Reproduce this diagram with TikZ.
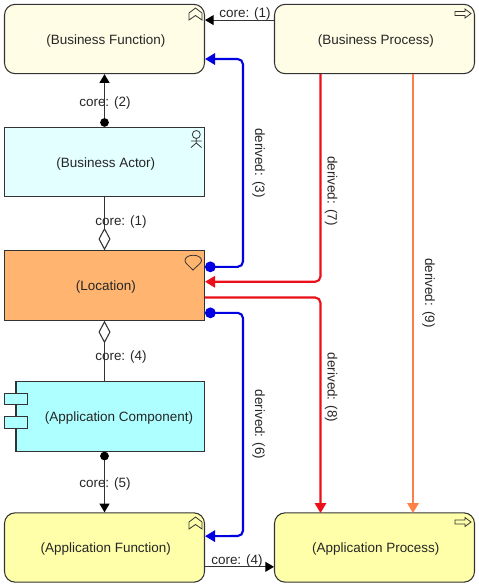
\documentclass[tikz,border=0pt]{standalone}
\usepackage{fontspec}
\setmainfont{Liberation Sans}
\usepackage{tikz}
\usetikzlibrary{arrows.meta,calc}
\definecolor{bizfunc}{RGB}{255,253,230}
\definecolor{bizactor}{RGB}{228,255,255}
\definecolor{locorange}{RGB}{255,181,112}
\definecolor{appcomp}{RGB}{174,255,255}
\definecolor{appfunc}{RGB}{255,255,170}
\definecolor{linkgrey}{RGB}{51,51,51}
\definecolor{linkblue}{RGB}{0,0,225}
\definecolor{linkred}{RGB}{235,15,25}
\definecolor{linkorange}{RGB}{255,128,70}
\tikzset{
    element/.style={rectangle, draw=linkgrey, line width=0.8pt, minimum width=150pt, minimum height=52pt, inner sep=0pt, text height=9.6pt, text depth=2pt, font=\fontsize{10.1}{12}\selectfont, text=black!85, execute at begin node=\hspace*{2pt}},
    roundelement/.style={element, rounded corners=8pt},
    tabbox/.style={rectangle, draw=linkgrey, line width=0.8pt, fill=appcomp, minimum width=17.5pt, minimum height=8.5pt, inner sep=0pt},
    core/.style={line width=0.8pt, linkgrey, -{Triangle[length=6.5pt,width=7.5pt,color=black]}},
    coredot/.style={core, {Circle[length=6.5pt,color=black]}-{Triangle[length=6.5pt,width=7.5pt,color=black]}},
    coredia/.style={line width=0.8pt, linkgrey, -{Diamond[open,fill=white,length=17pt,width=9pt]}},
    derived/.style={line width=1.6pt, rounded corners=4pt, -{Triangle[length=7.5pt,width=8.5pt]}},
    deriveddot/.style={derived, {Circle[length=8pt]}-{Triangle[length=7.5pt,width=8.5pt]}},
    linklabel/.style={font=\fontsize{10.1}{12}\selectfont, text=black!85, inner sep=0pt},
    sidelabel/.style={linklabel, rotate=-90},
    icon/.style={draw=linkgrey, line width=0.6pt},
    functionicon/.pic={\draw[icon] (-6.5,5) -- (0,0) -- (6.5,5) -- (6.5,12) -- (0,7.5) -- (-6.5,12) -- cycle;},
    processicon/.pic={\draw[icon] (-8,-2) -- (2,-2) -- (2,-4.5) -- (8,0) -- (2,4.5) -- (2,2) -- (-8,2) -- cycle;},
}

\begin{document}
\begin{tikzpicture}[x=0.75pt,y=-0.75pt]
    \useasboundingbox (0,0) rectangle (479,587);

    % business layer
    \node[roundelement, fill=bizfunc] (bfunc) at (104.5,39) {(Business Function)};
    \node[roundelement, fill=bizfunc] (bproc) at (374.5,39) {(Business Process)};
    \node[element, fill=bizactor] (bactor) at (104.5,162) {(Business Actor)};

    % location
    \node[element, fill=locorange] (loc) at (104.5,285.5) {(Location)};

    % application layer
    \node[element, fill=appcomp, minimum width=141.5pt] (acomp) at (110.3,416.5) {\hspace*{11pt}(Application Component)};
    \node[tabbox] (tabup) at (16.2,399) {};
    \node[tabbox] (tabdown) at (16.2,422.5) {};
    \node[roundelement, fill=appfunc] (afunc) at (104.5,547.5) {(Application Function)};
    \node[roundelement, fill=appfunc] (aproc) at (374.5,547.5) {(Application Process)};

    % icons
    \pic at (195.5,8) {functionicon};
    \pic at (195.5,517) {functionicon};
    \pic at (463,13.5) {processicon};
    \pic at (463,522) {processicon};
    \draw[icon] (196.3,134.5) circle (4);
    \draw[icon] (196.3,138.5) -- (196.3,143) (191,141) -- (201.5,141) (191,147.5) -- (196.3,143) -- (201.5,147.5);
    \draw[icon] (193,270) .. controls (188,265) and (185,263) .. (185,260.5) .. controls (185,253.5) and (201.5,253.5) .. (201.5,260.5) .. controls (201.5,263) and (198,265) .. (193,270) -- cycle;

    % core links
    \draw[core] ([yshift=14.2pt]bproc.west) -- ([yshift=14.2pt]bfunc.east);
    \draw[coredot] (bactor.north) -- (bfunc.south);
    \draw[coredia] (bactor.south) -- (loc.north);
    \draw[coredia] (acomp.north -| loc.south) -- (loc.south);
    \draw[coredot] (afunc.north |- acomp.south) -- (afunc.north);
    \draw[core] ([yshift=-14.5pt]afunc.east) -- ([yshift=-14.5pt]aproc.west);

    % derived links
    \draw[deriveddot, linkblue] ([yshift=14pt]loc.east) -| (243,59) -- ([yshift=-15pt]bfunc.east);
    \draw[derived, linkred] (320.5,74) |- ([yshift=2.8pt]loc.east);
    \draw[derived, linkred] ([yshift=-9pt]loc.east) -| (320.5,513);
    \draw[deriveddot, linkblue] ([yshift=-20.5pt]loc.east) -| (243,536) -- ([yshift=8.5pt]afunc.east);
    \draw[derived, linkorange] (413,74) -- (413,513);

    % labels
    \node[linklabel] (core1top) at (245,14) {core: (1)};
    \node[linklabel] (core2) at (105,103) {core: (2)};
    \node[linklabel] (core1) at (121,222) {core: (1)};
    \node[linklabel] (core4) at (121,357) {core: (4)};
    \node[linklabel] (core5) at (105,484) {core: (5)};
    \node[linklabel] (core4low) at (237,561) {core: (4)};
    \node[sidelabel] (der3) at (258.5,163) {derived: (3)};
    \node[sidelabel] (der6) at (258.5,424.5) {derived: (6)};
    \node[sidelabel] (der7) at (331,191) {derived: (7)};
    \node[sidelabel] (der8) at (331,387.5) {derived: (8)};
    \node[sidelabel] (der9) at (428.5,293) {derived: (9)};
\end{tikzpicture}
\end{document}
